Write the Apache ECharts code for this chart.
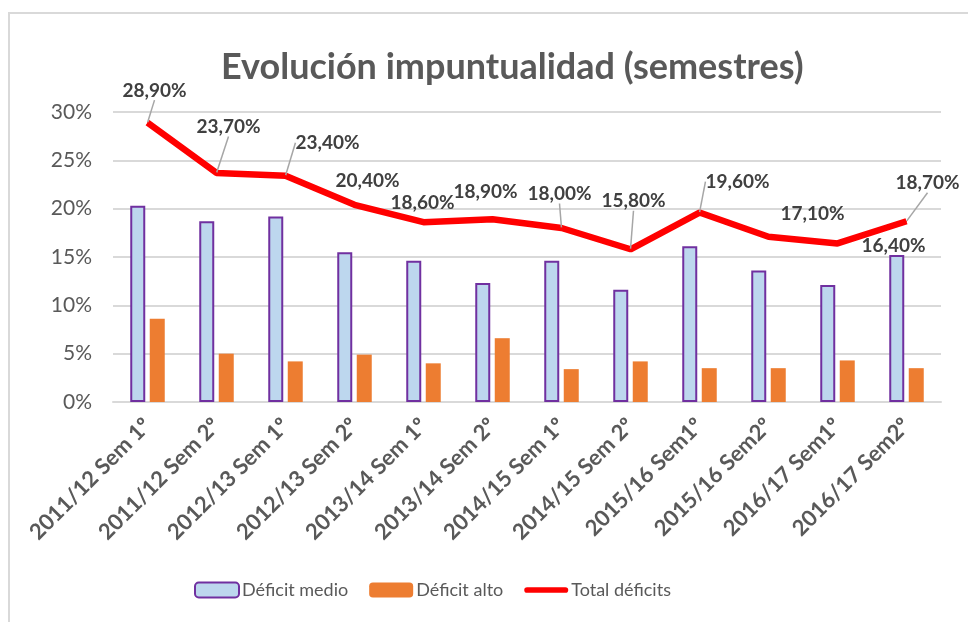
<!DOCTYPE html>
<html>
<head>
<meta charset="utf-8">
<script src="https://cdn.jsdelivr.net/npm/echarts@6/dist/echarts.min.js"></script>
<style>
  html, body { margin: 0; padding: 0; background: #fff; }
  #chart { width: 968px; height: 622px; }
</style>
</head>
<body>
<div id="chart"></div>
<script>
'use strict';
// semestres
const categories = [
    '2011/12 Sem 1º', '2011/12 Sem 2º', '2012/13 Sem 1º', '2012/13 Sem 2º',
    '2013/14 Sem 1º', '2013/14 Sem 2º', '2014/15 Sem 1º', '2014/15 Sem 2º',
    '2015/16 Sem1º', '2015/16 Sem2º', '2016/17 Sem1º', '2016/17 Sem2º'
];
// valores en %
const deficitMedio = [20.3, 18.7, 19.2, 15.5, 14.6, 12.3, 14.6, 11.6, 16.1, 13.6, 12.1, 15.2];
const deficitAlto = [8.6, 5.0, 4.2, 4.9, 4.0, 6.6, 3.4, 4.2, 3.5, 3.5, 4.3, 3.5];
const totalDeficits = [28.9, 23.7, 23.4, 20.4, 18.6, 18.9, 18.0, 15.8, 19.6, 17.1, 16.4, 18.7];
const yTicks = [0, 5, 10, 15, 20, 25, 30];

// desplazamiento de las etiquetas de la línea (px) y líneas guía
const labelOffsets = [
    [7, -17], [12, -31], [42, -18], [13, -9], [-1, -4], [-7, -12],
    [-2, -19], [3, -33], [38, -16], [44, -8], [56, 17], [21, -23]
];
const leaderLines = [true, true, true, false, false, false, true, true, true, false, false, true];

const fmt = (v) => v.toFixed(2).replace('.', ',') + '%';
const FONT = 'Lato, "Open Sans", sans-serif';

function init() {
    const chart = echarts.init(document.getElementById('chart'));
    const lineData = totalDeficits.map((v, i) => ({
        value: v,
        labelLine: { show: leaderLines[i] },
    }));
    const option = {
        animation: false,
        textStyle: { fontFamily: FONT },
        title: {
            text: 'Evolución impuntualidad (semestres)',
            left: 216,
            top: 44,
            textStyle: { fontFamily: FONT, fontSize: 36, fontWeight: 'bold', color: '#595959' },
        },
        graphic: [{
            type: 'rect',
            shape: { x: 9, y: 13, width: 980, height: 640 },
            style: { fill: 'none', stroke: '#d9d9d9', lineWidth: 2 },
            silent: true,
        }],
        grid: { left: 113, right: 27, top: 112, bottom: 220 },
        legend: {
            bottom: 18,
            left: 189,
            itemWidth: 44,
            itemHeight: 15,
            itemGap: 21,
            textStyle: { fontFamily: FONT, fontSize: 18, color: '#595959', padding: [0, 0, 0, -2] },
            data: [
                { name: 'Déficit medio' },
                { name: 'Déficit alto' },
                { name: 'Total déficits', icon: 'path://M3,0h40a3,3 0 0 1 0,6h-40a3,3 0 0 1 0,-6z' },
            ],
        },
        xAxis: {
            type: 'category',
            data: categories,
            axisTick: { show: false },
            axisLine: { lineStyle: { color: '#d9d9d9', width: 2 } },
            axisLabel: {
                rotate: 45,
                interval: 0,
                margin: 20,
                fontFamily: FONT,
                fontSize: 22,
                fontWeight: 'bold',
                color: '#595959',
            },
        },
        yAxis: {
            type: 'value',
            min: yTicks[0],
            max: yTicks[yTicks.length - 1],
            interval: 5,
            axisLine: { show: false },
            axisTick: { show: false },
            splitLine: { lineStyle: { color: '#d9d9d9', width: 2 } },
            axisLabel: {
                formatter: '{value}%',
                margin: 21,
                fontFamily: FONT,
                fontSize: 21,
                color: '#595959',
            },
        },
        series: [
            {
                name: 'Déficit medio',
                type: 'bar',
                data: deficitMedio,
                barWidth: 15,
                barGap: '30%',
                itemStyle: { color: '#BDD7EE', borderColor: '#7030A0', borderWidth: 2 },
            },
            {
                name: 'Déficit alto',
                type: 'bar',
                data: deficitAlto,
                barWidth: 15,
                barGap: '30%',
                itemStyle: { color: '#ED7D31' },
            },
            {
                name: 'Total déficits',
                type: 'line',
                data: lineData,
                symbol: 'circle',
                symbolSize: 1,
                showSymbol: true,
                lineStyle: { color: '#FF0000', width: 6.5 },
                itemStyle: { color: '#FF0000' },
                z: 5,
                label: {
                    show: true,
                    position: 'top',
                    distance: 5,
                    formatter: (p) => fmt(p.value),
                    fontFamily: FONT,
                    fontSize: 19,
                    fontWeight: 'bold',
                    color: '#404040',
                },
                labelLine: {
                    show: true,
                    lineStyle: { color: '#a6a6a6', width: 1.5 },
                },
                labelLayout: (p) => ({
                    dx: labelOffsets[p.dataIndex][0],
                    dy: labelOffsets[p.dataIndex][1],
                }),
            },
        ],
    };
    chart.setOption(option);
}

(function () {
    init();
})();
</script>
</body>
</html>
